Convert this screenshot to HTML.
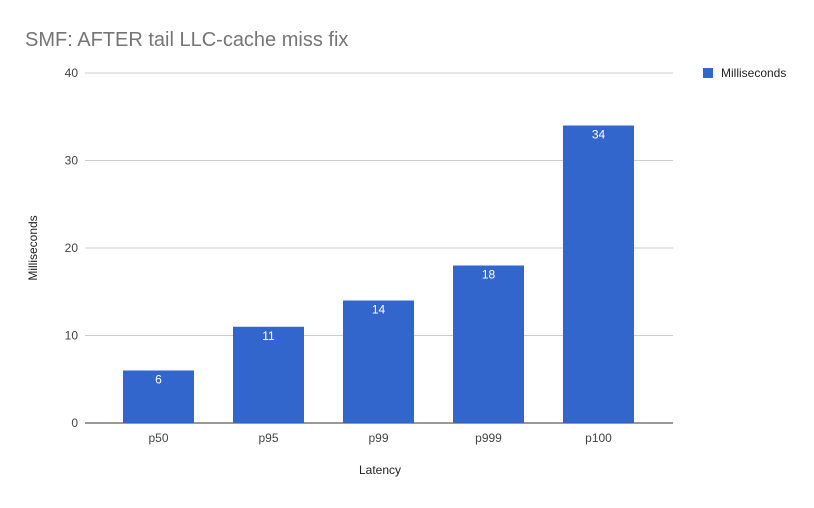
<!DOCTYPE html>
<html><head><meta charset="utf-8"><style>
body{margin:0;background:#fff;}
svg{font-family:"Liberation Sans",Roboto,sans-serif;}
</style></head><body>
<svg id="chart" width="814" height="503">
<rect width="814" height="503" fill="#fff"/>
<text x="25" y="46" font-size="20" fill="#757575">SMF: AFTER tail LLC-cache miss fix</text>
<g id="grid"></g>
<g id="bars"></g>
<text transform="translate(37,248) rotate(-90)" text-anchor="middle" font-size="12" fill="#222">Milliseconds</text>
<text x="380" y="474" text-anchor="middle" font-size="12" fill="#222">Latency</text>
<g>
<rect x="703" y="68" width="10" height="10" fill="#3366cc"/>
<text x="721" y="77" font-size="12" fill="#222">Milliseconds</text>
</g>
</svg>
<script>
const categories=["p50","p95","p99","p999","p100"];
const values=[6,11,14,18,34];
const yTicks=[0,10,20,30,40];
const NS="http://www.w3.org/2000/svg";
const plotL=85,plotR=673,y0=423,yTop=73,yMax=40;
const bandStart=103.5,band=110,barW=71;
function y(v){return y0-(v/yMax)*(y0-yTop);}
function xc(i){return bandStart+band*i+band/2;}
function mk(tag,attrs,parent){const e=document.createElementNS(NS,tag);for(const k in attrs)e.setAttribute(k,attrs[k]);parent.appendChild(e);return e;}
const grid=document.getElementById('grid'),bars=document.getElementById('bars');
yTicks.forEach(t=>{
 const l=mk('line',{x1:plotL,x2:plotR,y1:y(t),y2:y(t),stroke:t===0?'#333':'#ccc','stroke-width':1},grid);
 
 
 const tx=mk('text',{x:78,y:y(t)+4,'text-anchor':'end','font-size':12,fill:'#444'},grid);
 tx.textContent=t;
 
 
});
categories.forEach((c,i)=>{
 const v=values[i];
 const r=mk('rect',{x:xc(i)-barW/2,y:y(v),width:barW,height:y0-y(v),fill:'#3366cc'},bars);
 
 
 const vl=mk('text',{x:xc(i),y:y(v)+13,'text-anchor':'middle','font-size':12,fill:'#fff'},bars);
 vl.textContent=v;
 
 
 const xl=mk('text',{x:xc(i),y:442,'text-anchor':'middle','font-size':12,fill:'#444'},bars);
 xl.textContent=c;
 
 
});
</script>
</body></html>
